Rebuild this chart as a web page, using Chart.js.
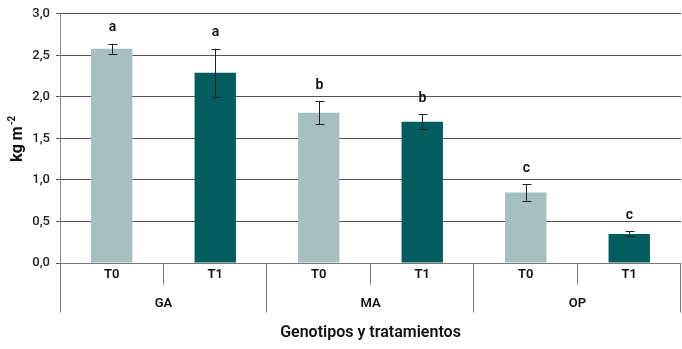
<!DOCTYPE html>
<html>
<head>
<meta charset="utf-8">
<script src="https://cdn.jsdelivr.net/npm/chart.js@4.4.1/dist/chart.umd.min.js"></script>
<style>
  html, body { margin: 0; padding: 0; background: #fff; }
  #wrap { width: 682px; height: 349px; }
</style>
</head>
<body>
<div id="wrap"><canvas id="chart"></canvas></div>
<script>
// data
var treatments = ["T0", "T1", "T0", "T1", "T0", "T1"];
var genotypes = ["GA", "MA", "OP"];
var means = [2.58, 2.29, 1.81, 1.70, 0.85, 0.35];
var errors = [0.06, 0.29, 0.14, 0.09, 0.10, 0.03];
var letters = ["a", "a", "b", "b", "c", "c"];
var yTicks = ["0,0", "0,5", "1,0", "1,5", "2,0", "2,5", "3,0"];

var light = "#a6bfc0",
    dark = "#035c5f";

var fontFam = "Roboto, 'Noto Sans', sans-serif";

// error bars + letters + two-level x axis
var extras = {
    id: "extras",
    afterDatasetsDraw: function (chart) {
        var ctx = chart.ctx;
        var x = chart.scales.x, y = chart.scales.y;
        var area = chart.chartArea;
        ctx.save();

        // error bars
        ctx.strokeStyle = "#222";
        ctx.lineWidth = 1;
        for (var i = 0; i < means.length; i++) {
            var cx = Math.round(x.getPixelForValue(i)) + 0.5;
            var yTop = y.getPixelForValue(means[i] + errors[i]);
            var yBot = y.getPixelForValue(means[i] - errors[i]);
            ctx.beginPath();
            ctx.moveTo(cx, yTop); ctx.lineTo(cx, yBot);
            ctx.moveTo(cx - 4, Math.round(yTop) + 0.5); ctx.lineTo(cx + 5, Math.round(yTop) + 0.5);
            ctx.moveTo(cx - 4, Math.round(yBot) + 0.5); ctx.lineTo(cx + 5, Math.round(yBot) + 0.5);
            ctx.stroke();

            // letters
            ctx.fillStyle = "#111";
            ctx.font = "600 14px " + fontFam;
            ctx.textAlign = "center";
            ctx.textBaseline = "bottom";
            ctx.fillText(letters[i], cx, yTop - 9);
        }

        // x axis line and separators
        var base = Math.round(area.bottom) + 0.5;
        ctx.strokeStyle = "#777";
        ctx.beginPath();
        ctx.moveTo(area.left, base); ctx.lineTo(area.right, base);
        var step = (area.right - area.left) / treatments.length;
        for (var k = 0; k <= treatments.length; k++) {
            var sx = Math.round(area.left + k * step) - 0.5;
            if (k === 0) sx = Math.round(area.left) + 0.5;
            ctx.moveTo(sx, base);
            ctx.lineTo(sx, base + (k % 2 === 0 ? 49 : 21));
        }
        ctx.stroke();

        ctx.fillStyle = "#111";
        ctx.font = "600 13px " + fontFam;
        ctx.textBaseline = "middle";
        for (var j = 0; j < treatments.length; j++) {
            ctx.fillText(treatments[j], x.getPixelForValue(j), base + 11);
        }
        for (var g = 0; g < genotypes.length; g++) {
            ctx.fillText(genotypes[g], area.left + (2 * g + 1) * step, base + 40);
        }

        // axis titles
        ctx.font = "600 16px " + fontFam;
        ctx.fillText("Genotipos y tratamientos", (area.left + area.right) / 2, 333);

        ctx.save();
        ctx.translate(18, 140);
        ctx.rotate(-Math.PI / 2);
        ctx.font = "bold 16px " + fontFam;
        var w = ctx.measureText("kg m").width;
        ctx.textAlign = "left";
        ctx.fillText("kg m", -w / 2 - 4, 0);
        ctx.font = "bold 10px " + fontFam;
        ctx.fillText("-2", w / 2 - 3, -6);
        ctx.restore();

        ctx.restore();
    }
};

var chart = new Chart(document.getElementById("chart"), {
    type: "bar",
    data: {
        labels: treatments,
        datasets: [{
            data: means,
            backgroundColor: [light, dark, light, dark, light, dark],
            borderWidth: 0,
            categoryPercentage: 1,
            barPercentage: 0.4
        }]
    },
    options: {
        responsive: true,
        maintainAspectRatio: false,
        animation: false,
        devicePixelRatio: 1,
        layout: { padding: { top: 13, right: 1, bottom: 86, left: 0 } },
        plugins: {
            legend: { display: false },
            tooltip: { enabled: false }
        },
        scales: {
            x: { display: false },
            y: {
                min: 0,
                max: 3,
                afterFit: function (scale) { scale.width = 60; },
                ticks: {
                    stepSize: 0.5,
                    padding: 6,
                    color: "#222",
                    font: { family: fontFam, size: 13, weight: 500 },
                    callback: function (v, i) { return yTicks[i]; }
                },
                grid: {
                    color: "#555",
                    lineWidth: 1,
                    tickLength: 4
                },
                border: { color: "#888", width: 1 }
            }
        }
    },
    plugins: [extras]
});
</script>
</body>
</html>
